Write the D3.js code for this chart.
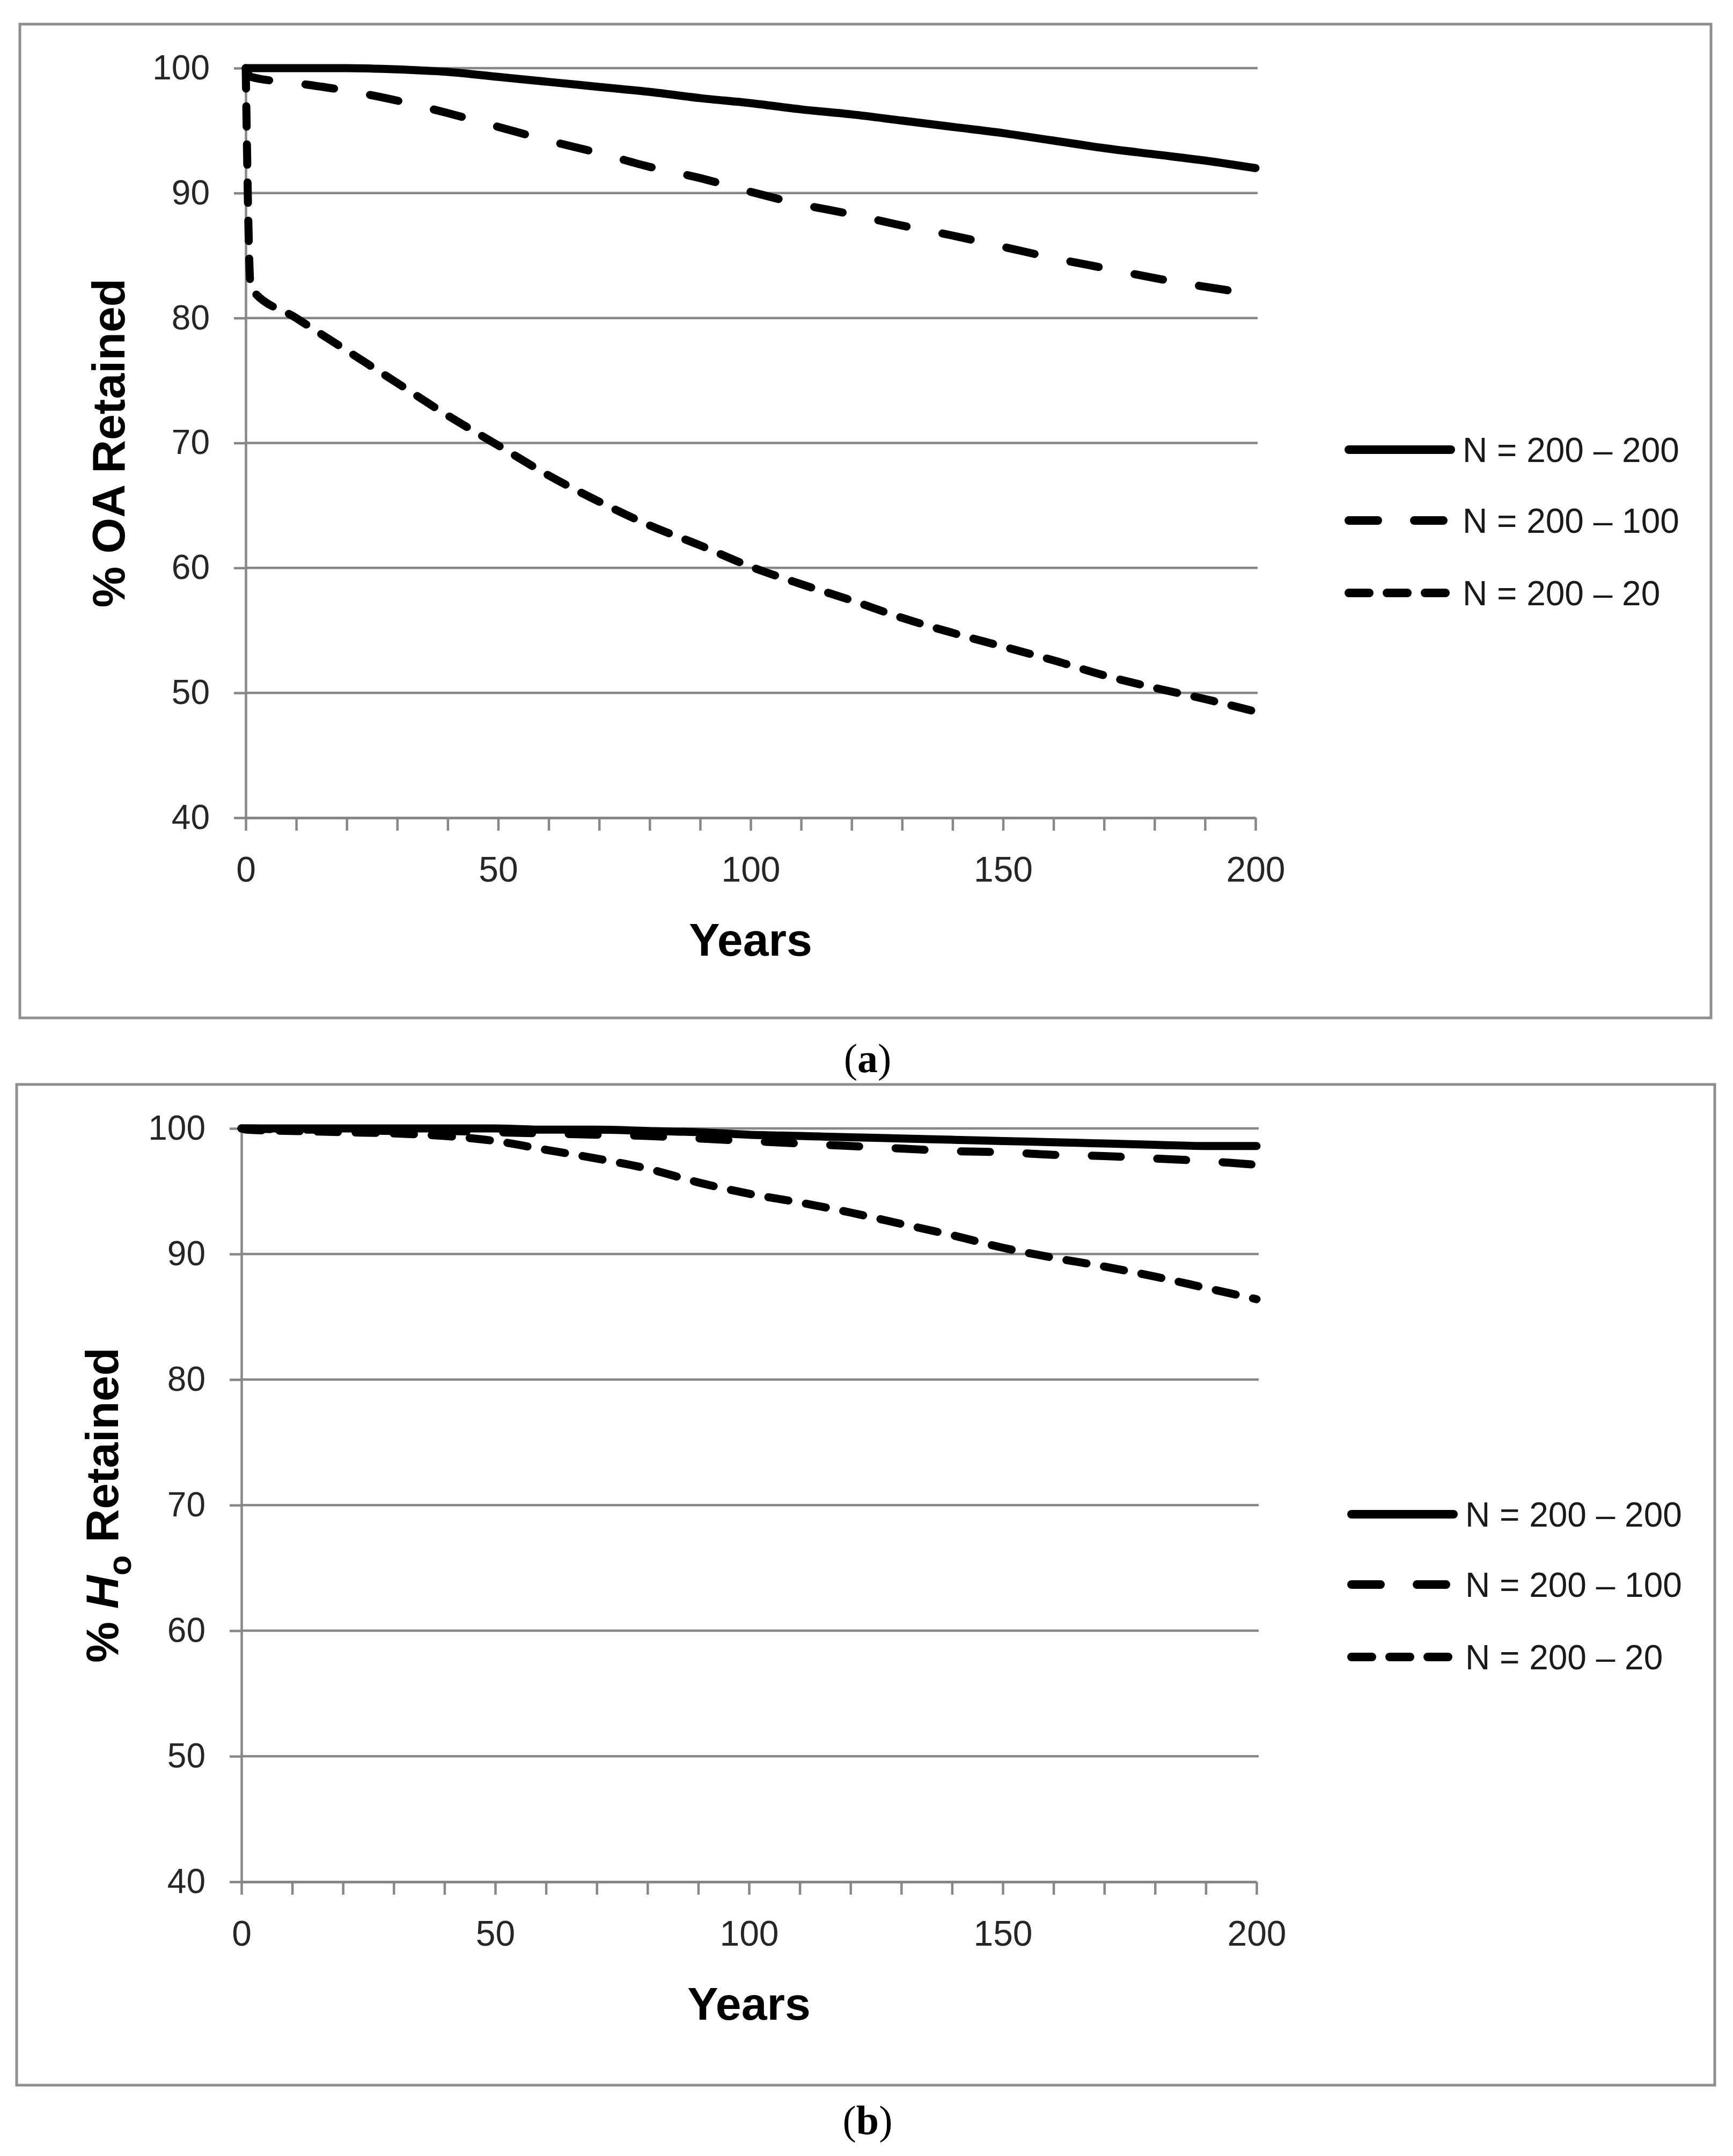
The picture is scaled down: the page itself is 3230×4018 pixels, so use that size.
<!DOCTYPE html>
<html><head><meta charset="utf-8">
<script src="https://cdn.jsdelivr.net/npm/d3@7/dist/d3.min.js"></script>
<style>body{margin:0;background:#fff}svg{display:block}</style>
</head><body>
<svg id="chart" width="3230" height="4018"></svg>
<script>
// ---------- data ----------
const years = [0,1,10,20,30,40,50,60,70,80,90,100,110,120,130,140,150,160,170,180,190,200];
const seriesNames = ["N = 200 \u2013 200", "N = 200 \u2013 100", "N = 200 \u2013 20"];

// panel (a): % OA retained
const oa_200_200 = [100,100,100,100,99.9,99.7,99.3,98.9,98.5,98.1,97.6,97.2,96.7,96.3,95.8,95.3,94.8,94.2,93.6,93.1,92.6,92.0];
const oa_200_100 = [100,99.3,98.8,98.2,97.4,96.4,95.3,94.2,93.2,92.1,91.2,90.1,89.1,88.3,87.4,86.6,85.7,84.8,84.0,83.2,82.5,81.9];
const oa_200_20  = [100,82.4,80.0,77.4,74.8,72.2,69.8,67.4,65.3,63.4,61.8,60.1,58.7,57.4,56.0,54.8,53.7,52.6,51.4,50.4,49.5,48.5];

// panel (b): % Ho retained
const ho_200_200 = [100,100,100,100,100,100,100,99.9,99.9,99.8,99.7,99.5,99.4,99.3,99.2,99.1,99.0,98.9,98.8,98.7,98.6,98.6];
const ho_200_100 = [100,100,99.9,99.9,99.8,99.8,99.7,99.6,99.5,99.4,99.2,99.0,98.8,98.6,98.4,98.2,98.1,97.9,97.8,97.6,97.4,97.1];
const ho_200_20  = [100,99.9,99.8,99.7,99.6,99.4,99.0,98.3,97.6,96.8,95.7,94.8,94.1,93.3,92.4,91.5,90.5,89.7,89.0,88.2,87.3,86.4];

const yTickValues = [40,50,60,70,80,90,100];
const xMinorTicks = d3.range(0, 201, 10);
const xTickLabels = [0,50,100,150,200];

// ---------- layout / style ----------
const dashes = [null, "54 68", "38 33"];
const lineW = 15;
const gridColor = "#878787";
const textColor = "#262626";

const panels = [
  {values:[oa_200_200, oa_200_100, oa_200_20], box:[37,45,3189,1897], x0:458, x1:2340, yTop:127, yBot:1524,
   legX0:2514, legX1:2704, legTextX:2726, legY:[838,970,1105], label:"a", labelY:1998, titleX:232, title:"oa"},
  {values:[ho_200_200, ho_200_100, ho_200_20], box:[31,2021,3196,3886], x0:450, x1:2342, yTop:2103, yBot:3507,
   legX0:2519, legX1:2709, legTextX:2731, legY:[2822,2953,3088], label:"b", labelY:3977, titleX:220, title:"ho"}
];

const svg = d3.select("#chart");
svg.append("rect").attr("width",3230).attr("height",4018).attr("fill","#fff");

panels.forEach(p => {
  const g = svg.append("g");
  // outer frame
  g.append("rect")
    .attr("x", p.box[0]).attr("y", p.box[1])
    .attr("width", p.box[2]-p.box[0]).attr("height", p.box[3]-p.box[1])
    .attr("fill","none").attr("stroke","#8f8f8f").attr("stroke-width",5);

  const x = d3.scaleLinear().domain([0,200]).range([p.x0, p.x1]);
  const y = d3.scaleLinear().domain([40,100]).range([p.yBot, p.yTop]);

  // gridlines
  g.append("g").selectAll("line").data(yTickValues.filter(v => v > 40)).join("line")
    .attr("x1", p.x0).attr("x2", p.x1 + 4)
    .attr("y1", d => y(d)).attr("y2", d => y(d))
    .attr("stroke", gridColor).attr("stroke-width", 4.5);

  // y axis
  const ya = g.append("g").attr("transform", `translate(${p.x0},0)`)
    .call(d3.axisLeft(y).tickValues(yTickValues).tickSize(22).tickSizeOuter(0).tickPadding(45));
  ya.select(".domain").attr("stroke", gridColor).attr("stroke-width", 4.5);
  ya.selectAll(".tick line").attr("stroke", gridColor).attr("stroke-width", 4.5);
  ya.selectAll(".tick text").attr("font-family","'Liberation Sans', Arial, sans-serif")
    .attr("font-size", 64).attr("fill", textColor);

  // x axis
  const xa = g.append("g").attr("transform", `translate(0,${p.yBot})`)
    .call(d3.axisBottom(x).tickValues(xMinorTicks).tickSize(24).tickSizeOuter(0).tickPadding(48)
      .tickFormat(d => xTickLabels.includes(d) ? d : ""));
  xa.select(".domain").attr("stroke", gridColor).attr("stroke-width", 5);
  xa.selectAll(".tick line").attr("stroke", gridColor).attr("stroke-width", 4.5);
  xa.selectAll(".tick text").attr("font-family","'Liberation Sans', Arial, sans-serif")
    .attr("font-size", 66).attr("fill", textColor);

  // x title
  g.append("text").attr("x", (p.x0+p.x1)/2).attr("y", p.yBot + 257)
    .attr("text-anchor","middle").attr("font-family","'Liberation Sans', Arial, sans-serif")
    .attr("font-weight","bold").attr("font-size", 86).attr("fill","#000").text("Years");

  // y title
  const cy = (p.yTop + p.yBot)/2;
  const yt = g.append("text").attr("transform", `translate(${p.titleX},${cy}) rotate(-90)`)
    .attr("text-anchor","middle").attr("font-family","'Liberation Sans', Arial, sans-serif")
    .attr("font-weight","bold").attr("font-size", 86).attr("fill","#000");
  if (p.title === "oa") {
    yt.text("% OA Retained");
  } else {
    yt.append("tspan").text("% ");
    yt.append("tspan").attr("font-style","italic").text("H");
    yt.append("tspan").attr("font-size", 62).attr("dy", 24).text("o");
    yt.append("tspan").attr("dy", -24).text(" Retained");
  }

  // series lines
  const line = d3.line().x(d => x(d[0])).y(d => y(d[1])).curve(d3.curveMonotoneX);
  p.values.forEach((vals, i) => {
    const pts = years.map((yr, k) => [yr, vals[k]]);
    g.append("path").datum(pts).attr("d", line)
      .attr("fill","none").attr("stroke","#000").attr("stroke-width", lineW)
      .attr("stroke-linecap","round").attr("stroke-linejoin","round")
      .attr("stroke-dasharray", dashes[i]);
  });

  // legend
  seriesNames.forEach((name, i) => {
    const ly = p.legY[i];
    g.append("line").attr("x1", p.legX0).attr("x2", p.legX1).attr("y1", ly).attr("y2", ly)
      .attr("stroke","#000").attr("stroke-width", 16).attr("stroke-linecap","round")
      .attr("stroke-dasharray", dashes[i]);
    g.append("text").attr("x", p.legTextX).attr("y", ly + 23)
      .attr("font-family","'Liberation Sans', Arial, sans-serif").attr("font-size", 64)
      .attr("fill", "#1a1a1a").attr("xml:space","preserve").text(name);
  });

  // panel label
  const lab = svg.append("text").attr("x", 1617).attr("y", p.labelY).attr("text-anchor","middle")
    .attr("font-family","'Liberation Serif', 'Times New Roman', serif").attr("font-size", 76).attr("fill","#000");
  lab.append("tspan").text("(");
  lab.append("tspan").attr("font-weight","bold").text(p.label);
  lab.append("tspan").text(")");
});
</script>
</body></html>
